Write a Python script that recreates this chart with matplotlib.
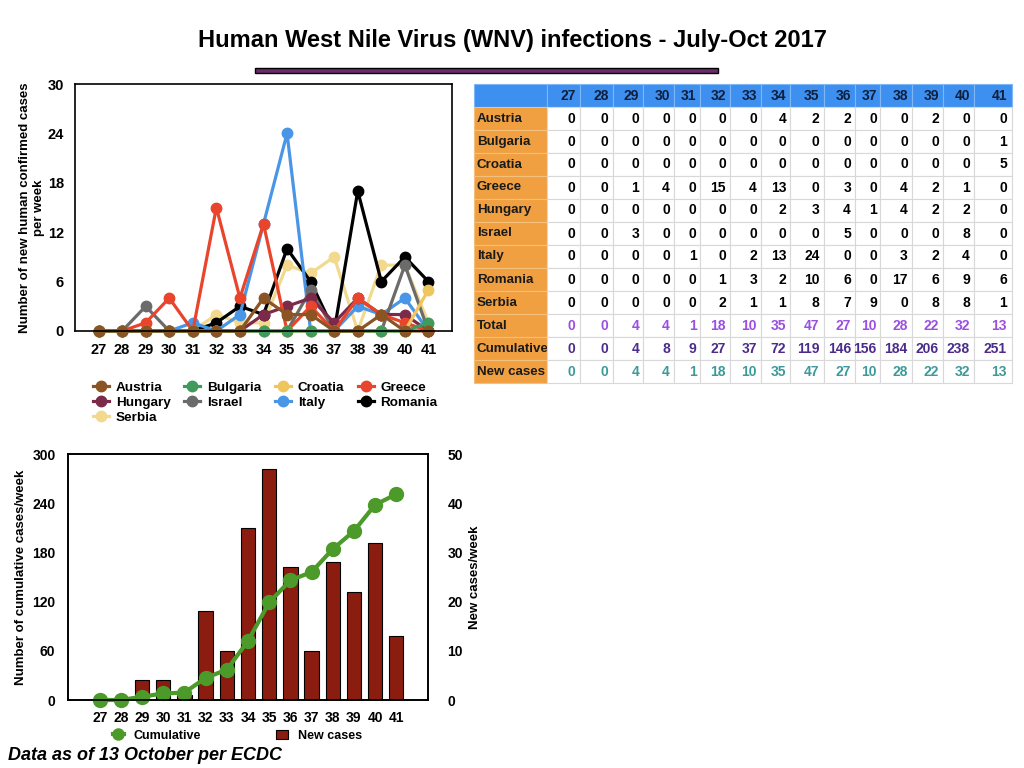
import matplotlib
matplotlib.use('Agg')
import matplotlib.pyplot as plt
from matplotlib.patches import Rectangle, Patch
from matplotlib.lines import Line2D

# weeks and per-country weekly cases (from ECDC table)
weeks = [27, 28, 29, 30, 31, 32, 33, 34, 35, 36, 37, 38, 39, 40, 41]
austria = [0, 0, 0, 0, 0, 0, 0, 4, 2, 2, 0, 0, 2, 0, 0]
bulgaria = [0, 0, 0, 0, 0, 0, 0, 0, 0, 0, 0, 0, 0, 0, 1]
croatia = [0, 0, 0, 0, 0, 0, 0, 0, 0, 0, 0, 0, 0, 0, 5]
greece = [0, 0, 1, 4, 0, 15, 4, 13, 0, 3, 0, 4, 2, 1, 0]
hungary = [0, 0, 0, 0, 0, 0, 0, 2, 3, 4, 1, 4, 2, 2, 0]
israel = [0, 0, 3, 0, 0, 0, 0, 0, 0, 5, 0, 0, 0, 8, 0]
italy = [0, 0, 0, 0, 1, 0, 2, 13, 24, 0, 0, 3, 2, 4, 0]
romania = [0, 0, 0, 0, 0, 1, 3, 2, 10, 6, 0, 17, 6, 9, 6]
serbia = [0, 0, 0, 0, 0, 2, 1, 1, 8, 7, 9, 0, 8, 8, 1]
total = [0, 0, 4, 4, 1, 18, 10, 35, 47, 27, 10, 28, 22, 32, 13]
cumulative = [0, 0, 4, 8, 9, 27, 37, 72, 119, 146, 156, 184, 206, 238, 251]
new_cases = [0, 0, 4, 4, 1, 18, 10, 35, 47, 27, 10, 28, 22, 32, 13]

countries = ['Austria', 'Bulgaria', 'Croatia', 'Greece', 'Hungary',
             'Israel', 'Italy', 'Romania', 'Serbia']
series = [austria, bulgaria, croatia, greece, hungary, israel, italy, romania, serbia]
colors = ['#8a5522', '#3f9a5c', '#efc55e', '#e8452c', '#7c2a4a',
          '#6b6b6b', '#4a96e6', '#000000', '#f3d98e']

plt.rcParams['font.family'] = ['Liberation Sans', 'DejaVu Sans']
plt.rcParams['font.weight'] = 'bold'

fig = plt.figure(figsize=(10.24, 7.68), dpi=100)

fig.text(0.5, 1 - 40 / 768, 'Human West Nile Virus (WNV) infections - July-Oct 2017',
         ha='center', va='center', fontsize=17, fontweight='bold')
fig.add_artist(Rectangle((255 / 1024, 1 - 73 / 768), 463 / 1024, 5 / 768,
                         transform=fig.transFigure, facecolor='#6b2a6b',
                         edgecolor='black', linewidth=1))

# ---- top line chart
ax = fig.add_axes([75 / 1024, 1 - 331 / 768, 377 / 1024, 247 / 768])
for name, vals, c in reversed(list(zip(countries, series, colors))):
    ax.plot(weeks, vals, '-o', color=c, lw=2.3, ms=7.5, label=name, clip_on=False)
ax.set_xlim(26, 42)
ax.set_ylim(0, 30)
ax.set_xticks(weeks)
ax.set_yticks([0, 6, 12, 18, 24, 30])
ax.tick_params(length=0, labelsize=10.5)
ax.tick_params(axis='x', pad=9)
ax.tick_params(axis='y', pad=8)
for lab in ax.get_xticklabels() + ax.get_yticklabels():
    lab.set_fontweight('bold')
for s in ax.spines.values():
    s.set_linewidth(1.2)
ax.set_ylabel('Number of new human confirmed cases\nper week', fontsize=9.5,
              fontweight='bold', labelpad=2)

order = [0, 4, 8, 1, 5, 2, 6, 3, 7]
handles = [Line2D([], [], color=colors[i], marker='o', lw=2.3, ms=7.5) for i in order]
ax.legend(handles, [countries[i] for i in order], ncol=4, loc='upper center',
          bbox_to_anchor=(0.505, -0.155), frameon=False,
          handlelength=1.2, handletextpad=0.5, columnspacing=1.0,
          labelspacing=0.2, prop={'weight': 'bold', 'size': 9.7})

# ---- table
header = [''] + [str(w) for w in weeks]
rows = [[n] + [str(v) for v in vals] for n, vals in zip(countries, series)]
rows.append(['Total'] + [str(v) for v in total])
rows.append(['Cumulative'] + [str(v) for v in cumulative])
rows.append(['New cases'] + [str(v) for v in new_cases])
cell_text = [header] + rows
col_px = [73, 33, 33, 30, 31, 26, 30, 31, 29, 34, 31, 25, 32, 31, 31, 38]

tax = fig.add_axes([474 / 1024, 1 - 383 / 768, 538 / 1024, 299 / 768])
tax.axis('off')
tbl = tax.table(cellText=cell_text, colWidths=[w / sum(col_px) for w in col_px],
                cellLoc='right', bbox=[0, 0, 1, 1])
tbl.auto_set_font_size(False)
row_colors = {10: '#9b4fe0', 11: '#4b2c8c', 12: '#3c9a98'}
for (r, c), cell in tbl.get_celld().items():
    cell.set_edgecolor('#d8d8d8')
    cell.set_linewidth(0.8)
    cell.PAD = 0.13
    txt = cell.get_text()
    txt.set_fontsize(10)
    txt.set_fontweight('bold')
    if r == 0:
        cell.set_facecolor('#3d8ff0')
        cell.set_edgecolor('#7fb6f5')
        txt.set_color('#10203a')
    elif c == 0:
        cell.set_facecolor('#f0a040')
        cell.set_edgecolor('#f5c07a')
        cell.PAD = 0.04
        cell._loc = 'left'
        txt.set_ha('left')
        txt.set_fontsize(9.6)
        txt.set_color('#1a1a1a')
    else:
        cell.set_facecolor('white')
        txt.set_color(row_colors.get(r, 'black'))

# ---- bottom combo chart
bx = fig.add_axes([68 / 1024, 1 - 700 / 768, 360 / 1024, 246 / 768])
bx2 = bx.twinx()
bx2.bar(weeks, new_cases, width=0.68, color='#8b1c10', edgecolor='black', linewidth=0.8)
bx2.set_ylim(0, 50)
bx2.set_yticks([0, 10, 20, 30, 40, 50])
bx.plot(weeks, cumulative, '-o', color='#4c9a2a', lw=3, ms=10, clip_on=False)
bx.set_zorder(bx2.get_zorder() + 1)
bx.patch.set_visible(False)
bx.set_xlim(25.5, 42.5)
bx.set_ylim(0, 300)
bx.set_xticks(weeks)
bx.set_yticks([0, 60, 120, 180, 240, 300])
for a in (bx, bx2):
    a.tick_params(length=0, labelsize=10)
    for lab in a.get_xticklabels() + a.get_yticklabels():
        lab.set_fontweight('bold')
    for s in a.spines.values():
        s.set_linewidth(1.2)
bx.tick_params(axis='y', pad=9)
bx.tick_params(axis='x', pad=8)
bx2.tick_params(axis='y', pad=14)
bx.set_ylabel('Number of cumulative cases/week', fontsize=9.5, fontweight='bold', labelpad=4)
bx2.set_ylabel('New cases/week', fontsize=9.5, fontweight='bold', labelpad=4)

lh = [Line2D([], [], color='#4c9a2a', marker='o', lw=3, ms=8),
      Patch(facecolor='#8b1c10', edgecolor='black', linewidth=0.8)]
bx.legend(lh, ['Cumulative', 'New cases'], ncol=2, loc='upper center',
          bbox_to_anchor=(0.47, -0.075), frameon=False, handlelength=0.9,
          columnspacing=6, prop={'weight': 'bold', 'size': 9})

fig.text(8 / 1024, 1 - 756 / 768, 'Data as of 13 October per ECDC', ha='left', va='center',
         fontsize=13, fontweight='bold', fontstyle='italic')

fig.savefig('out.png', dpi=100)
